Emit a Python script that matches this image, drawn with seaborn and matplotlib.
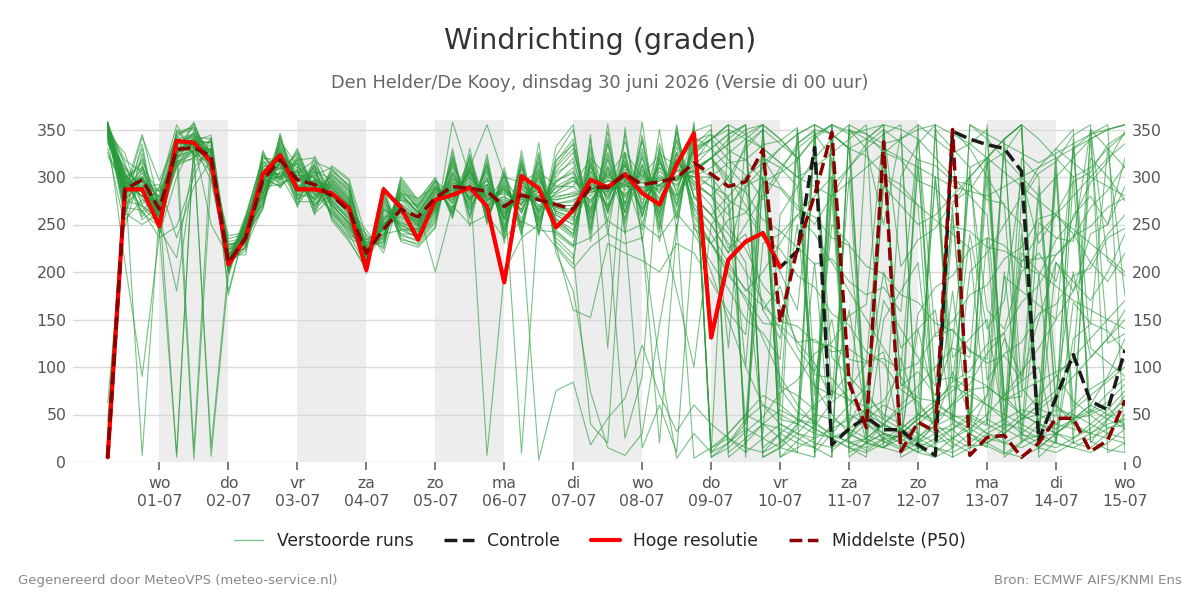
import numpy as np
import pandas as pd
import matplotlib
matplotlib.use('Agg')
import matplotlib.pyplot as plt
import seaborn as sns
from matplotlib.lines import Line2D

# --- tijdas: 6-uurlijks, di 30-06 06 uur t/m wo 15-07 00 uur ---
times = pd.date_range('2026-06-30 06:00', '2026-07-15 00:00', freq='6h')

tick_days = ['wo', 'do', 'vr', 'za', 'zo', 'ma', 'di', 'wo', 'do', 'vr', 'za', 'zo', 'ma', 'di', 'wo']
tick_dates = ['01-07', '02-07', '03-07', '04-07', '05-07', '06-07', '07-07', '08-07',
              '09-07', '10-07', '11-07', '12-07', '13-07', '14-07', '15-07']

# hoge resolutie (tot 10-07 00 uur)
hires = [5, 287, 287, 248, 338, 336, 316, 208, 236, 303, 323, 287, 287, 283, 267, 202,
         287, 268, 234, 276, 281, 289, 269, 189, 301, 288, 247, 265, 297, 289, 303, 283,
         271, 313, 346, 131, 213, 232, 241, 205]

# controle run (valt t/m 10-07 samen met hoge resolutie)
control = [5, 287, 287, 248, 338, 336, 316, 208, 236, 303, 323, 287, 287, 283, 267, 202,
           287, 268, 234, 276, 281, 289, 269, 189, 301, 288, 247, 265, 297, 289, 303, 283,
           271, 313, 346, 131, 213, 232, 241, 205, 222, 331, 18, 35, 47, 34, 34, 18,
           7, 348, 340, 334, 330, 306, 23, 68, 113, 64, 55, 118]

# mediaan (P50)
median = [4, 287, 297, 266, 329, 331, 322, 210, 236, 297, 318, 297, 292, 280, 265, 220,
          245, 266, 258, 278, 290, 288, 285, 269, 281, 276, 271, 266, 289, 289, 303, 292,
          295, 299, 315, 303, 290, 295, 329, 147, 225, 281, 347, 83, 36, 337, 11, 42,
          32, 350, 7, 26, 28, 5, 20, 46, 46, 11, 23, 65]

# verstoorde runs, eerste dagen: per tijdstap 50 leden
ens_0630 = [
    [352, 345, 358, 340, 355, 348, 336, 356, 350, 344, 357, 342, 353, 347, 322, 355, 349, 338, 356, 351,
     346, 354, 341, 358, 350, 343, 357, 335, 352, 348, 355, 339, 350, 356, 345, 353, 330, 349, 357, 344,
     351, 358, 346, 340, 354, 350, 326, 356, 62, 42],
    [288, 300, 275, 310, 292, 265, 305, 283, 296, 270, 300, 285, 318, 262, 290, 298, 255, 308, 280, 294,
     210, 287, 302, 272, 315, 290, 260, 297, 284, 306, 278, 292, 268, 312, 285, 299, 248, 290, 304, 276,
     294, 282, 325, 288, 270, 301, 286, 295, 262, 300],
    [292, 310, 270, 285, 300, 320, 262, 298, 280, 335, 7, 288, 305, 250, 295, 315, 276, 290, 342, 268,
     90, 300, 284, 312, 258, 296, 325, 280, 304, 272, 290, 318, 265, 286, 300, 278, 310, 294, 255, 330,
     284, 298, 270, 308, 290, 262, 345, 280, 300, 288],
]
ens_0701 = [
    [262, 270, 255, 280, 248, 268, 290, 258, 275, 240, 265, 252, 278, 262, 285, 245, 270, 258, 296, 250,
     240, 266, 274, 256, 282, 260, 247, 272, 264, 288, 255, 268, 236, 276, 262, 250, 284, 258, 270, 242,
     266, 278, 254, 262, 292, 248, 270, 260, 275, 256],
    [330, 322, 340, 315, 335, 318, 345, 326, 5, 332, 310, 338, 325, 350, 320, 215, 334, 328, 342, 312,
     300, 336, 322, 344, 330, 180, 318, 340, 326, 355, 324, 332, 248, 338, 316, 328, 346, 320, 334, 8,
     326, 342, 312, 330, 236, 338, 322, 348, 328, 316],
    [336, 328, 345, 320, 340, 3, 350, 332, 338, 326, 342, 330, 355, 324, 338, 318, 346, 334, 12, 328,
     340, 332, 348, 325, 336, 310, 344, 330, 358, 322, 338, 346, 300, 334, 328, 340, 352, 326, 344, 338,
     330, 356, 320, 336, 290, 342, 328, 352, 334, 324],
    [318, 330, 312, 340, 322, 300, 326, 314, 336, 320, 310, 328, 316, 306, 344, 318, 324, 296, 332, 322,
     314, 338, 326, 6, 318, 330, 308, 320, 312, 334, 324, 316, 342, 328, 310, 320, 302, 16, 318, 336,
     326, 312, 330, 250, 318, 340, 322, 310, 328, 316],
]
ens_0702 = [
    [214, 208, 222, 200, 218, 210, 228, 212, 216, 204, 220, 212, 232, 198, 215, 206, 224, 210, 212, 208,
     218, 212, 180, 195, 214, 202, 222, 208, 235, 200, 216, 224, 176, 212, 206, 218, 230, 205, 220, 214,
     210, 228, 202, 216, 238, 218, 208, 226, 212, 204],
    [232, 250, 238, 244, 226, 256, 236, 248, 252, 240, 230, 246, 236, 258, 244, 228, 240, 254, 222, 248,
     238, 232, 246, 256, 234, 250, 242, 226, 240, 252, 236, 228, 250, 244, 258, 238, 230, 246, 224, 240,
     254, 236, 248, 232, 242, 218, 250, 238, 260, 244],
    [300, 278, 315, 290, 268, 322, 296, 284, 310, 274, 305, 292, 328, 270, 300, 286, 318, 280, 295, 312,
     266, 302, 290, 320, 282, 298, 272, 314, 288, 306, 276, 324, 294, 284, 310, 268, 300, 290, 326, 278,
     304, 296, 316, 272, 288, 308, 282, 300, 320, 292],
    [330, 306, 318, 292, 340, 312, 300, 326, 296, 336, 310, 322, 288, 344, 304, 316, 298, 332, 320, 302,
     338, 294, 314, 308, 328, 290, 324, 300, 342, 312, 318, 296, 334, 306, 322, 346, 300, 316, 292, 330,
     308, 320, 298, 336, 314, 302, 326, 290, 318, 310],
]
ens_0703 = [
    [292, 310, 280, 322, 300, 272, 314, 296, 326, 284, 302, 290, 318, 276, 308, 296, 330, 286, 300, 270,
     312, 298, 282, 324, 294, 306, 278, 316, 290, 304, 274, 320, 298, 288, 310, 280, 328, 292, 302, 268,
     314, 286, 306, 296, 276, 318, 290, 308, 284, 300],
    [284, 298, 306, 272, 290, 316, 266, 300, 280, 310, 294, 276, 320, 288, 262, 302, 284, 312, 270, 296,
     290, 306, 278, 286, 314, 268, 298, 292, 282, 318, 274, 288, 304, 296, 260, 308, 286, 278, 300, 322,
     280, 294, 270, 310, 298, 264, 302, 286, 312, 276],
    [290, 270, 298, 280, 262, 308, 284, 274, 296, 256, 288, 302, 268, 292, 278, 310, 262, 284, 300, 274,
     282, 266, 304, 288, 272, 294, 258, 286, 306, 276, 298, 264, 280, 290, 312, 270, 284, 296, 260, 288,
     302, 276, 292, 266, 284, 308, 272, 280, 254, 294],
    [270, 252, 282, 260, 242, 290, 266, 256, 278, 236, 272, 286, 248, 274, 262, 296, 244, 268, 284, 254,
     266, 240, 288, 270, 250, 276, 234, 264, 292, 258, 280, 246, 262, 272, 298, 252, 268, 278, 238, 270,
     286, 256, 274, 246, 266, 290, 250, 262, 232, 276],
]
ens_0704 = [
    [220, 212, 228, 205, 224, 216, 234, 210, 218, 226, 208, 222, 230, 214, 200, 224, 216, 238, 210, 220,
     226, 206, 218, 232, 212, 222, 202, 228, 216, 240, 208, 220, 230, 212, 236, 218, 226, 198, 232, 214,
     222, 234, 210, 224, 244, 212, 220, 228, 204, 216],
    [248, 262, 240, 270, 236, 256, 244, 278, 250, 232, 266, 246, 254, 240, 284, 242, 258, 228, 272, 250,
     238, 276, 252, 230, 264, 248, 290, 244, 258, 224, 280, 250, 236, 268, 226, 254, 246, 286, 234, 260,
     250, 232, 274, 246, 220, 266, 252, 240, 282, 256],
    [270, 252, 264, 246, 284, 258, 276, 240, 262, 290, 250, 268, 280, 244, 234, 278, 260, 298, 248, 266,
     282, 238, 262, 292, 254, 272, 236, 284, 258, 300, 244, 270, 288, 250, 296, 264, 276, 232, 286, 256,
     266, 294, 246, 272, 282, 252, 262, 280, 240, 268],
    [252, 244, 258, 236, 262, 248, 270, 240, 254, 266, 238, 256, 264, 246, 230, 260, 250, 274, 242, 252,
     262, 234, 250, 268, 244, 256, 228, 262, 248, 276, 236, 254, 266, 242, 272, 250, 258, 226, 268, 246,
     254, 270, 240, 258, 278, 244, 252, 262, 232, 248],
]
ens_0705 = [
    [276, 268, 284, 258, 288, 272, 296, 264, 278, 290, 262, 280, 290, 270, 252, 286, 274, 300, 266, 276,
     288, 256, 274, 294, 268, 282, 248, 288, 272, 298, 260, 278, 200, 266, 296, 274, 284, 246, 292, 270,
     278, 296, 264, 282, 290, 268, 276, 286, 254, 272],
    [284, 300, 276, 310, 268, 292, 280, 318, 286, 264, 304, 282, 272, 296, 326, 278, 294, 258, 312, 288,
     274, 320, 290, 262, 306, 286, 358, 280, 298, 256, 316, 288, 270, 302, 260, 292, 282, 330, 266, 298,
     286, 262, 314, 284, 272, 304, 290, 276, 322, 294],
    [290, 278, 300, 266, 308, 284, 318, 272, 292, 312, 268, 296, 310, 280, 256, 304, 288, 324, 274, 290,
     306, 260, 286, 316, 276, 298, 300, 308, 284, 330, 264, 294, 250, 278, 320, 288, 302, 248, 314, 282,
     292, 322, 270, 300, 310, 276, 290, 306, 258, 286],
    [278, 292, 270, 304, 262, 286, 274, 312, 280, 258, 298, 276, 266, 290, 320, 272, 288, 252, 306, 282,
     268, 314, 284, 256, 300, 280, 7, 274, 292, 250, 310, 282, 260, 296, 254, 286, 276, 324, 262, 292,
     280, 256, 308, 278, 355, 298, 284, 270, 316, 288],
]
ens_0706 = [
    [268, 256, 280, 244, 290, 264, 300, 250, 270, 294, 246, 276, 292, 260, 234, 286, 268, 306, 254, 272,
     288, 240, 266, 298, 258, 282, 200, 290, 262, 310, 242, 274, 236, 256, 302, 268, 284, 230, 296, 262,
     270, 304, 248, 278, 300, 256, 272, 288, 238, 266],
    [274, 290, 266, 304, 256, 282, 270, 314, 276, 250, 298, 272, 262, 288, 322, 266, 284, 244, 308, 278,
     262, 316, 280, 248, 300, 276, 236, 9, 290, 238, 312, 278, 254, 296, 240, 282, 270, 328, 252, 292,
     276, 246, 310, 272, 294, 300, 280, 264, 318, 286],
    [280, 266, 294, 252, 304, 276, 316, 258, 284, 310, 254, 290, 308, 270, 240, 300, 278, 326, 262, 286,
     304, 246, 276, 2, 268, 296, 250, 270, 280, 336, 250, 288, 244, 264, 320, 280, 298, 238, 314, 274,
     284, 324, 256, 292, 306, 262, 286, 302, 242, 278],
    [266, 284, 256, 300, 244, 276, 260, 312, 270, 236, 294, 264, 250, 282, 322, 256, 278, 228, 306, 268,
     252, 316, 272, 75, 296, 268, 226, 260, 284, 220, 310, 270, 242, 290, 228, 276, 262, 332, 240, 288,
     268, 232, 304, 264, 290, 296, 272, 254, 318, 280],
]
ens_0707 = [
    [262, 300, 240, 320, 228, 280, 250, 336, 270, 218, 310, 256, 236, 290, 350, 244, 284, 208, 326, 262,
     238, 340, 276, 84, 306, 266, 204, 250, 296, 180, 330, 270, 228, 300, 160, 280, 254, 355, 226, 296,
     264, 214, 316, 258, 290, 304, 274, 240, 334, 282],
    [290, 274, 306, 256, 318, 284, 332, 262, 296, 40, 250, 300, 322, 276, 240, 312, 286, 345, 266, 292,
     316, 246, 284, 18, 272, 306, 226, 290, 286, 74, 254, 298, 236, 266, 152, 288, 310, 232, 328, 280,
     294, 340, 258, 302, 320, 262, 292, 314, 244, 286],
    [282, 302, 268, 320, 254, 292, 270, 334, 286, 20, 310, 280, 262, 298, 348, 266, 296, 120, 326, 284,
     262, 340, 288, 46, 306, 284, 240, 270, 300, 15, 324, 286, 254, 312, 230, 292, 276, 356, 250, 304,
     284, 240, 318, 278, 300, 310, 288, 264, 336, 296],
    [296, 280, 312, 262, 324, 290, 338, 270, 300, 300, 256, 304, 326, 282, 246, 316, 292, 352, 272, 298,
     322, 254, 290, 67, 278, 312, 230, 296, 290, 7, 262, 302, 242, 272, 220, 294, 314, 240, 25, 286,
     300, 346, 264, 308, 326, 268, 298, 318, 250, 292],
]
ens_0708 = [
    [284, 304, 266, 322, 250, 294, 268, 338, 288, 244, 312, 280, 258, 300, 15, 262, 296, 232, 330, 284,
     258, 344, 290, 123, 308, 282, 236, 266, 302, 30, 326, 286, 250, 314, 212, 294, 272, 358, 90, 306,
     284, 236, 320, 276, 300, 312, 288, 260, 340, 298],
    [292, 276, 310, 256, 322, 286, 336, 262, 298, 330, 250, 302, 326, 278, 60, 316, 290, 350, 266, 296,
     320, 246, 288, 71, 272, 310, 105, 292, 284, 144, 256, 300, 236, 268, 200, 292, 314, 232, 332, 282,
     298, 20, 258, 306, 324, 262, 296, 318, 242, 290],
    [298, 318, 280, 180, 262, 306, 282, 348, 300, 256, 326, 292, 270, 312, 10, 276, 308, 244, 340, 296,
     268, 352, 302, 32, 320, 296, 4, 280, 314, 250, 338, 298, 262, 326, 230, 306, 286, 355, 256, 318,
     296, 246, 332, 290, 312, 324, 300, 272, 346, 308],
    [306, 290, 324, 100, 336, 300, 350, 278, 312, 342, 262, 316, 340, 292, 250, 330, 304, 358, 280, 308,
     334, 258, 300, 60, 286, 326, 30, 304, 296, 4, 266, 312, 240, 280, 220, 306, 328, 246, 348, 294,
     310, 355, 268, 320, 338, 272, 306, 330, 252, 300],
]

# verstoorde runs vanaf do 09-07 00 uur: per lid 25 waarden
ens_late_a = [
    [320, 290, 335, 350, 15, 40, 345, 320, 25, 60, 20, 300, 335, 355, 45, 30, 70, 340, 355, 30, 60, 40, 320, 300, 275],
    [270, 225, 240, 160, 185, 120, 95, 150, 40, 75, 45, 110, 50, 40, 95, 50, 70, 130, 90, 150, 210, 180, 240, 250, 290],
    [340, 355, 15, 300, 45, 40, 210, 10, 350, 330, 250, 345, 20, 40, 180, 30, 15, 200, 45, 50, 310, 20, 15, 30, 50],
    [250, 220, 290, 160, 130, 250, 80, 70, 160, 45, 30, 25, 140, 60, 85, 240, 140, 170, 300, 230, 260, 240, 210, 190, 220],
    [10, 20, 35, 25, 15, 350, 40, 355, 30, 45, 60, 50, 320, 35, 20, 10, 355, 40, 320, 300, 60, 330, 345, 350, 355],
    [290, 280, 100, 320, 310, 290, 70, 250, 230, 60, 170, 140, 110, 80, 260, 45, 30, 25, 240, 55, 70, 90, 110, 130, 150],
    [5, 20, 40, 300, 80, 70, 55, 320, 30, 20, 15, 35, 50, 45, 340, 25, 20, 30, 45, 60, 320, 40, 30, 45, 70],
    [260, 240, 210, 30, 260, 290, 320, 340, 355, 20, 40, 30, 15, 5, 350, 330, 300, 270, 250, 30, 210, 190, 170, 200, 240],
    [300, 120, 340, 10, 30, 20, 15, 40, 60, 80, 200, 120, 140, 160, 40, 200, 220, 250, 280, 310, 330, 350, 20, 45, 60],
    [330, 310, 290, 300, 60, 335, 350, 345, 330, 50, 290, 270, 250, 260, 280, 300, 320, 340, 355, 340, 320, 300, 310, 330, 345],
    [230, 200, 170, 130, 90, 60, 40, 300, 20, 25, 40, 60, 80, 100, 120, 110, 320, 70, 50, 40, 35, 45, 60, 90, 130],
    [340, 350, 5, 355, 340, 320, 30, 290, 310, 330, 345, 355, 10, 20, 35, 50, 40, 30, 45, 60, 75, 200, 110, 130, 160],
    [15, 25, 10, 350, 335, 320, 340, 355, 5, 20, 30, 25, 15, 350, 330, 310, 320, 340, 355, 15, 30, 45, 60, 50, 40],
    [280, 300, 270, 240, 200, 160, 330, 110, 90, 70, 50, 40, 30, 20, 25, 35, 50, 70, 95, 120, 150, 180, 210, 240, 260],
    [200, 150, 100, 60, 40, 30, 25, 280, 15, 25, 40, 55, 70, 300, 110, 130, 150, 35, 210, 240, 260, 280, 300, 320, 335],
    [345, 5, 20, 40, 35, 25, 15, 5, 355, 345, 335, 340, 350, 355, 5, 15, 30, 40, 35, 25, 20, 15, 10, 20, 35],
    [290, 270, 40, 230, 240, 260, 280, 300, 30, 340, 355, 350, 340, 320, 300, 280, 260, 50, 220, 200, 185, 170, 160, 150, 140],
    [10, 30, 50, 70, 60, 45, 35, 25, 15, 10, 20, 30, 45, 60, 75, 90, 80, 65, 50, 40, 30, 25, 35, 50, 65],
    [260, 230, 200, 170, 140, 110, 80, 50, 30, 20, 15, 25, 40, 55, 45, 35, 25, 20, 30, 45, 55, 50, 40, 30, 25],
    [320, 335, 350, 355, 340, 320, 10, 30, 50, 40, 25, 15, 355, 340, 325, 335, 350, 5, 20, 40, 30, 20, 350, 330, 310],
    [350, 20, 45, 60, 50, 40, 30, 25, 35, 50, 330, 80, 95, 70, 125, 300, 160, 140, 200, 220, 190, 260, 280, 250, 320],
    [230, 205, 182, 164, 148, 143, 126, 122, 108, 104, 320, 83, 67, 64, 48, 47, 38, 340, 28, 27, 30, 42, 53, 72, 88],
    [310, 325, 340, 355, 20, 40, 60, 75, 65, 50, 40, 30, 20, 15, 10, 20, 35, 45, 55, 50, 40, 35, 30, 25, 20],
    [40, 25, 15, 10, 20, 35, 350, 70, 95, 20, 150, 180, 210, 40, 270, 300, 320, 340, 355, 10, 330, 315, 300, 290, 280],
    [300, 315, 318, 334, 338, 352, 5, 345, 330, 322, 302, 292, 270, 30, 248, 243, 226, 222, 212, 214, 218, 238, 248, 268, 278],
]
ens_late_b = [
    [340, 355, 10, 25, 40, 30, 20, 15, 25, 40, 30, 20, 10, 5, 15, 30, 45, 35, 25, 15, 10, 20, 30, 40, 45],
    [10, 350, 340, 330, 315, 300, 310, 325, 340, 355, 15, 30, 45, 60, 50, 40, 30, 20, 15, 25, 40, 55, 70, 85, 100],
    [320, 296, 284, 255, 243, 226, 208, 214, 190, 176, 184, 158, 340, 132, 140, 118, 104, 112, 86, 290, 92, 64, 50, 58, 36],
    [280, 260, 300, 320, 290, 270, 250, 280, 310, 335, 350, 20, 40, 30, 15, 355, 340, 320, 300, 280, 300, 320, 340, 350, 355],
    [15, 30, 50, 40, 25, 10, 355, 345, 330, 340, 355, 10, 25, 45, 60, 75, 60, 45, 30, 20, 15, 25, 40, 55, 75],
    [240, 210, 180, 200, 230, 260, 240, 210, 180, 150, 120, 90, 60, 40, 25, 15, 20, 35, 50, 70, 90, 110, 130, 150, 170],
    [330, 345, 355, 5, 15, 30, 50, 45, 35, 25, 15, 10, 20, 30, 40, 30, 20, 10, 5, 15, 30, 45, 55, 45, 35],
    [210, 182, 150, 136, 108, 350, 92, 88, 66, 58, 38, 33, 22, 38, 47, 310, 86, 114, 126, 156, 166, 196, 204, 236, 246],
    [260, 280, 300, 315, 330, 345, 355, 5, 350, 340, 330, 320, 310, 300, 290, 285, 280, 290, 300, 310, 320, 330, 340, 350, 355],
    [190, 158, 134, 330, 78, 52, 43, 27, 22, 12, 24, 27, 48, 300, 84, 96, 124, 136, 168, 186, 218, 236, 268, 286, 312],
    [320, 335, 345, 355, 5, 15, 25, 35, 45, 55, 45, 35, 25, 15, 5, 355, 345, 335, 325, 315, 325, 335, 345, 355, 10],
    [340, 318, 302, 276, 304, 318, 343, 355, 348, 346, 326, 318, 296, 288, 266, 40, 236, 228, 206, 198, 20, 168, 146, 138, 116],
    [230, 255, 262, 294, 305, 335, 348, 12, 26, 55, 64, 96, 104, 135, 148, 176, 186, 214, 226, 256, 262, 295, 305, 334, 346],
    [355, 10, 25, 40, 55, 45, 35, 25, 15, 5, 350, 336, 318, 312, 296, 292, 276, 272, 30, 252, 236, 232, 350, 212, 196],
    [280, 246, 224, 186, 164, 126, 104, 66, 300, 28, 22, 13, 27, 38, 62, 82, 114, 136, 20, 196, 234, 256, 294, 316, 348],
    [320, 300, 330, 350, 5, 22, 38, 63, 77, 104, 116, 20, 156, 184, 196, 224, 236, 10, 276, 304, 316, 344, 355, 10, 20],
    [5, 15, 32, 47, 73, 86, 114, 126, 154, 166, 350, 206, 234, 246, 274, 286, 314, 326, 352, 5, 22, 300, 52, 63, 82],
    [250, 270, 290, 310, 330, 345, 355, 345, 330, 30, 300, 285, 270, 255, 240, 225, 40, 195, 180, 165, 150, 330, 120, 105, 90],
    [330, 345, 355, 15, 30, 45, 40, 30, 20, 15, 25, 35, 50, 65, 80, 70, 60, 50, 40, 30, 20, 15, 25, 35, 45],
    [345, 328, 318, 296, 288, 266, 258, 236, 228, 206, 198, 176, 168, 146, 138, 116, 108, 330, 78, 56, 48, 340, 22, 13, 10],
    [250, 220, 250, 280, 310, 330, 345, 355, 10, 20, 30, 20, 10, 355, 345, 335, 320, 305, 290, 275, 260, 245, 230, 215, 200],
    [320, 340, 355, 5, 15, 10, 5, 355, 345, 350, 355, 5, 15, 25, 35, 45, 320, 65, 75, 85, 95, 105, 340, 125, 135],
    [340, 355, 345, 330, 315, 300, 290, 280, 295, 310, 325, 340, 355, 10, 25, 40, 300, 70, 85, 100, 20, 130, 145, 330, 175],
    [230, 196, 174, 146, 144, 126, 129, 116, 119, 106, 109, 96, 310, 86, 89, 76, 79, 66, 69, 280, 59, 46, 49, 36, 39],
    [300, 276, 264, 236, 224, 196, 184, 156, 144, 116, 104, 76, 64, 36, 34, 18, 17, 8, 22, 28, 300, 58, 77, 88, 107],
]

# --- data samenvoegen ---
early = np.array(ens_0630 + ens_0701 + ens_0702 + ens_0703 + ens_0704 +
                 ens_0705 + ens_0706 + ens_0707 + ens_0708)
late = np.array(ens_late_a + ens_late_b).T
ens = np.vstack([early, late])
assert ens.shape == (len(times), 50)

ens_df = pd.DataFrame(ens, index=times, columns=[f'lid{k:02d}' for k in range(50)])
ens_long = ens_df.reset_index(names='tijd').melt(id_vars='tijd', var_name='run', value_name='graden')

sns.set_theme(style='white')
plt.rcParams['font.family'] = ['DejaVu Sans']

fig = plt.figure(figsize=(12, 6), dpi=100)
ax = fig.add_axes([0.061, 0.23, 0.8765, 0.57])

# grijze banden om de dag
tick_pos = pd.date_range('2026-07-01', '2026-07-15', freq='D')
for k in range(0, 14, 2):
    ax.axvspan(tick_pos[k], tick_pos[k + 1], color='#ededed', zorder=0, lw=0)

green = '#2a9b3c'
sns.lineplot(data=ens_long, x='tijd', y='graden', units='run', estimator=None,
             color=green, lw=0.8, alpha=0.62, ax=ax, legend=False, zorder=2)
sns.lineplot(x=times, y=control, color='#1a1a1a', lw=2.5, linestyle='--', ax=ax, zorder=3)
sns.lineplot(x=times[:len(hires)], y=hires, color='#ff0000', lw=3, ax=ax, zorder=4)
sns.lineplot(x=times, y=median, color='#8b0000', lw=2.5, linestyle='--', ax=ax, zorder=5)

ax.set_xlim(pd.Timestamp('2026-06-29 18:00'), pd.Timestamp('2026-07-15 00:00'))
ax.set_ylim(0, 360)
ax.set_yticks(range(0, 351, 50))
ax.set_xticks(tick_pos)
ax.set_xticklabels([f'{d}\n{t}' for d, t in zip(tick_days, tick_dates)], linespacing=1.25)
ax.set_xlabel('')
ax.set_ylabel('')

ax.grid(axis='y', color='#d9d9d9', lw=1, zorder=1)
ax.grid(axis='x', visible=False)
for s in ax.spines.values():
    s.set_visible(False)
ax.tick_params(axis='x', length=6, width=1.2, color='#666666', labelcolor='#555555',
               labelsize=11.3, pad=4, bottom=True)
ax.tick_params(axis='y', length=0, labelcolor='#555555', labelsize=11.3, pad=5,
               labelleft=True, labelright=True)

fig.text(0.5, 0.932, 'Windrichting (graden)', ha='center', va='center', fontsize=20.5, color='#333333')
fig.text(0.5, 0.861, 'Den Helder/De Kooy, dinsdag 30 juni 2026 (Versie di 00 uur)',
         ha='center', va='center', fontsize=12.8, color='#666666')

handles = [
    Line2D([], [], color=green, lw=1, alpha=0.6),
    Line2D([], [], color='#1a1a1a', lw=2.5, ls='--'),
    Line2D([], [], color='#ff0000', lw=3),
    Line2D([], [], color='#8b0000', lw=2.5, ls='--'),
]
labels = ['Verstoorde runs', 'Controle', 'Hoge resolutie', 'Middelste (P50)']
fig.legend(handles, labels, loc='center', bbox_to_anchor=(0.5, 0.098), ncol=4, frameon=False,
           fontsize=12.3, handlelength=1.7, columnspacing=1.8, handletextpad=0.8)

fig.text(0.015, 0.033, 'Gegenereerd door MeteoVPS (meteo-service.nl)', ha='left', va='center',
         fontsize=9.5, color='#888888')
fig.text(0.985, 0.033, 'Bron: ECMWF AIFS/KNMI Ens', ha='right', va='center',
         fontsize=9.5, color='#888888')

fig.savefig('out.png', dpi=100)
